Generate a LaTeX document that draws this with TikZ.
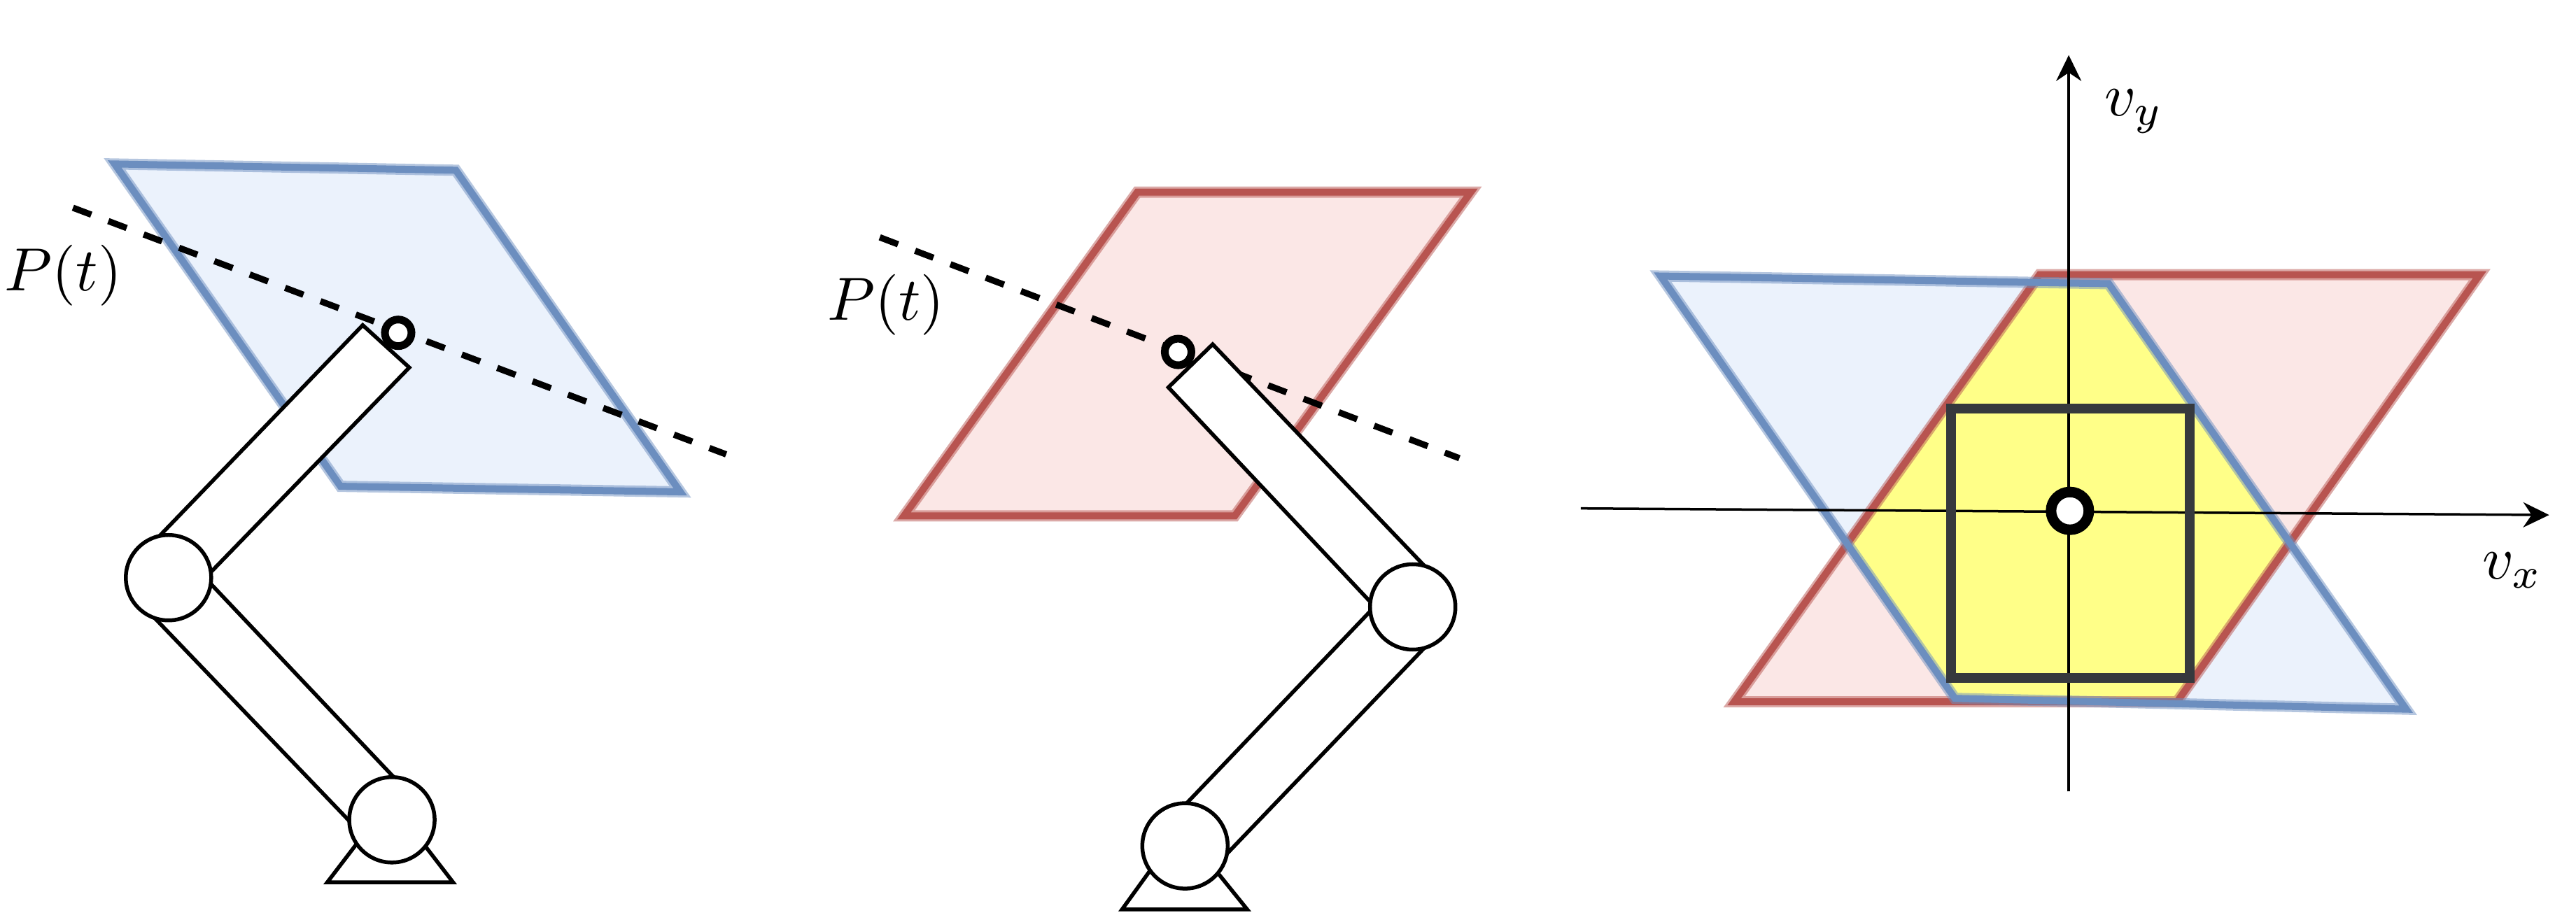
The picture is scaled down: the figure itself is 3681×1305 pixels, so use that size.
\documentclass[tikz,border=0pt]{standalone}
\usetikzlibrary{arrows.meta}
\definecolor{bluestroke}{HTML}{6C8EBF}
\definecolor{bluefill}{HTML}{EBF2FC}
\definecolor{redstroke}{HTML}{B85450}
\definecolor{redfill}{HTML}{FBE7E6}
\definecolor{overlapfill}{HTML}{FFFF88}
\definecolor{boxgray}{HTML}{36393D}
\tikzset{
  blueedge/.style={draw=bluestroke,line width=10pt,line join=miter,miter limit=10},
  redge/.style={draw=redstroke,line width=10pt,line join=miter,miter limit=10},
  halo/.style={line width=16pt,draw opacity=.5},
  link/.style={draw=black,fill=white,line width=5.5pt,line join=miter},
  joint/.style={circle,draw=black,fill=white,line width=5.5pt,minimum size=122pt,inner sep=0pt},
  traj/.style={draw=black,line width=9pt,dash pattern=on 28pt off 26pt},
  target/.style={circle,draw=black,fill=white,line width=11pt,minimum size=38pt,inner sep=0pt},
  lab/.style={inner sep=0pt,scale=8.7},
  axis/.style={draw=black,line width=3.5pt,-{Stealth[length=37pt,width=36pt]}},
}
\begin{document}
\begin{tikzpicture}[x=1pt,y=-1pt]
\useasboundingbox (0,0) rectangle (3681,1305);
% ---------- left panel
\begin{scope}[shift={(1,1.05)},xscale=.993,yscale=.993]
\coordinate (b1) at (164,235); \coordinate (b2) at (655,244);
\coordinate (b3) at (978,707); \coordinate (b4) at (489,699);
\fill[bluefill] (b1)--(b2)--(b3)--(b4)--cycle;
\draw[blueedge,halo] (b1)--(b2)--(b3)--(b4)--cycle;
\draw[blueedge] (b1)--(b2)--(b3)--(b4)--cycle;
\coordinate (t1) at (104,298); \coordinate (t2) at (1044,653);
\draw[traj] (t1)--(t2);
\node[target] (dotA) at (572,478) {};
\coordinate (a1) at (521,467); \coordinate (a2) at (588,528);
\coordinate (a3) at (302,823); \coordinate (a4) at (230,769);
\draw[link] (a1)--(a2)--(a3)--(a4)--cycle;
\coordinate (a5) at (302,839); \coordinate (a6) at (565,1117);
\coordinate (a7) at (501,1180); \coordinate (a8) at (222,889);
\draw[link] (a5)--(a6)--(a7)--(a8)--cycle;
\coordinate (c1) at (512,1214); \coordinate (c2) at (470,1269);
\coordinate (c3) at (651,1269); \coordinate (c4) at (611,1217);
\draw[link] (c1)--(c2)--(c3)--(c4);
\node[joint] (elbowA) at (241.5,830.5) {};
\node[joint] (baseA) at (563,1179) {};
\node[lab] (labA) at (90,395.7) {$P(t)$};
\end{scope}
% ---------- middle panel
\begin{scope}[shift={(15,1.6)},xscale=.989,yscale=.993]
\coordinate (r1) at (1628,275); \coordinate (r2) at (2110,275);
\coordinate (r3) at (1769,741); \coordinate (r4) at (1291,741);
\fill[redfill] (r1)--(r2)--(r3)--(r4)--cycle;
\draw[redge,halo] (r1)--(r2)--(r3)--(r4)--cycle;
\draw[redge] (r1)--(r2)--(r3)--(r4)--cycle;
\coordinate (t3) at (1256,340); \coordinate (t4) at (2093.5,658);
\draw[traj] (t3)--(t4);
\node[target] (dotB) at (1687,505) {};
\coordinate (d1) at (1737,494); \coordinate (d2) at (1673,556);
\coordinate (d3) at (1965,865); \coordinate (d4) at (2042,812);
\draw[link] (d1)--(d2)--(d3)--(d4)--cycle;
\coordinate (d5) at (1964,879); \coordinate (d6) at (1701,1153);
\coordinate (d7) at (1758,1227); \coordinate (d8) at (2041,933);
\draw[link] (d5)--(d6)--(d7)--(d8)--cycle;
\coordinate (e1) at (1647,1251); \coordinate (e2) at (1606,1307.6);
\coordinate (e3) at (1787,1307.6); \coordinate (e4) at (1746,1257);
\draw[link] (e1)--(e2)--(e3)--(e4);
\node[joint] (elbowB) at (2026,872) {};
\node[joint] (baseB) at (1697,1216) {};
\node[lab] (labB) at (1265,437.5) {$P(t)$};
\end{scope}
% ---------- right panel
\begin{scope}[shift={(18,.35)},xscale=.992,yscale=.993]
\coordinate (p1) at (2374,397); \coordinate (p2) at (3019.5,408);
\coordinate (p3) at (3448,1020.5); \coordinate (p4) at (2798,1005);
\coordinate (q1) at (2920,395); \coordinate (q2) at (3554,395);
\coordinate (q3) at (3118,1010); \coordinate (q4) at (2480,1010);
\fill[redfill] (q1)--(q2)--(q3)--(q4)--cycle;
\fill[bluefill] (p1)--(p2)--(p3)--(p4)--cycle;
\begin{scope}
  \clip (p1)--(p2)--(p3)--(p4)--cycle;
  \fill[overlapfill] (q1)--(q2)--(q3)--(q4)--cycle;
\end{scope}
\draw[redge,halo] (q1)--(q2)--(q3)--(q4)--cycle;
\draw[redge] (q1)--(q2)--(q3)--(q4)--cycle;
\draw[blueedge,halo] (p1)--(p2)--(p3)--(p4)--cycle;
\draw[blueedge] (p1)--(p2)--(p3)--(p4)--cycle;
\coordinate (xs) at (2259,731.5); \coordinate (xe) at (3654,741);
\coordinate (ys) at (2962,1139); \coordinate (ye) at (2962,79);
\draw[axis] (xs)--(xe);
\draw[axis] (ys)--(ye);
\coordinate (g1) at (2792,588); \coordinate (g2) at (3136,976);
\draw[boxgray,line width=14pt,line join=miter] (g1) rectangle (g2);
\node[target,line width=15pt,minimum size=54pt] (dotC) at (2963.5,735) {};
\node[lab] (vy) at (3055.5,160) {$v_y$};
\node[lab] (vx) at (3601,821) {$v_x$};
\end{scope}
\end{tikzpicture}
\end{document}
